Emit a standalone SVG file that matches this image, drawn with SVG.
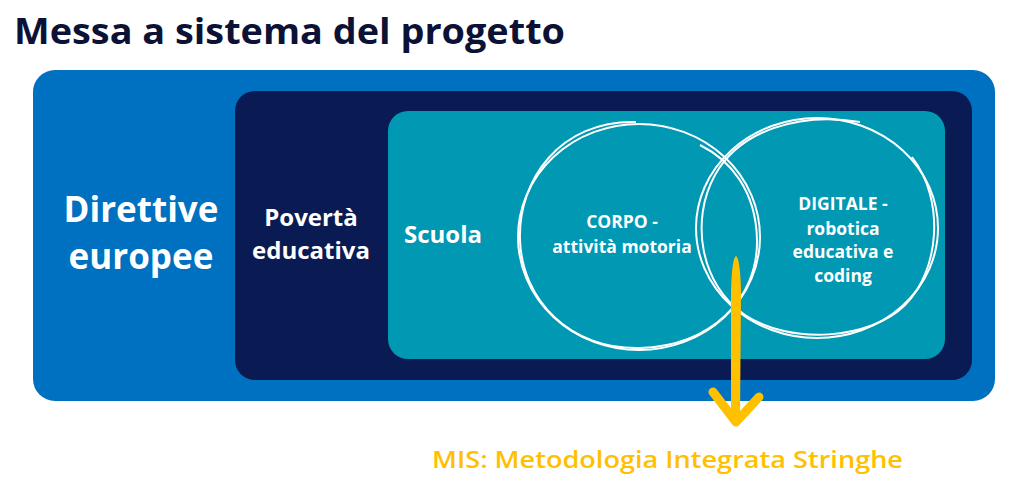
<svg xmlns="http://www.w3.org/2000/svg" width="1024" height="485" viewBox="0 0 1024 485">
<style>
.t{font-family:"Open Sans","Lato","Liberation Sans",sans-serif;font-weight:700;fill:#fff}
.c{fill:none;stroke:#fff;stroke-width:2}
</style>
<rect width="1024" height="485" fill="#fff"/>
<text x="14" y="44" class="t" style="fill:#0B1236;font-size:36px" textLength="551" lengthAdjust="spacingAndGlyphs">Messa a sistema del progetto</text>
<g id="direttive">
<rect x="33" y="70" width="962" height="331" rx="22" fill="#0070C0"/>
<text class="t" font-size="35" text-anchor="middle"><tspan x="141" y="222">Direttive</tspan><tspan x="141" y="269">europee</tspan></text>
</g>
<g id="poverta">
<rect x="235" y="91" width="737" height="289" rx="20" fill="#0A1B53"/>
<text class="t" font-size="24" text-anchor="middle"><tspan x="311" y="226">Povertà</tspan><tspan x="311" y="259">educativa</tspan></text>
</g>
<g id="scuola">
<rect x="388" y="111" width="557" height="248" rx="20" fill="#0098B3"/>
<text x="404" y="243" class="t" font-size="24">Scuola</text>
</g>
<g id="corpo">
<ellipse class="c" cx="639" cy="237" rx="121" ry="113"/>
<path class="c" d="M636 122 C 560 120, 518 180, 520 240 C 522 300, 570 350, 640 348 C 710 346, 758 300, 757 240 C 756 190, 730 160, 700 145"/>
<text class="t" font-size="17.5" text-anchor="middle" font-weight="600"><tspan x="622" y="228">CORPO -</tspan><tspan x="622" y="253">attività motoria</tspan></text>
</g>
<g id="digitale">
<ellipse class="c" cx="817" cy="228" rx="121" ry="110"/>
<path class="c" d="M912 157 C 945 200, 940 270, 905 305 C 870 340, 790 345, 745 315 C 700 285, 690 220, 715 175 C 740 130, 800 112, 860 122"/>
<text class="t" font-size="17.5" text-anchor="middle" font-weight="600"><tspan x="843" y="210">DIGITALE -</tspan><tspan x="843" y="235">robotica</tspan><tspan x="843" y="258">educativa e</tspan><tspan x="843" y="282">coding</tspan></text>
</g>
<g id="connectors">
<path d="M736 256 Q740 258 741 290 L740 420 L731 420 L731 290 Q732 258 736 256 Z" fill="#FFC000"/>
<path d="M713 392 L736 422 L759 397" fill="none" stroke="#FFC000" stroke-width="9" stroke-linecap="round" stroke-linejoin="round"/>
</g>
<g id="mis">
<text x="432" y="468" class="t" style="fill:#FFC000;font-size:24px;font-weight:600" textLength="471" lengthAdjust="spacingAndGlyphs">MIS: Metodologia Integrata Stringhe</text>
</g>
</svg>
